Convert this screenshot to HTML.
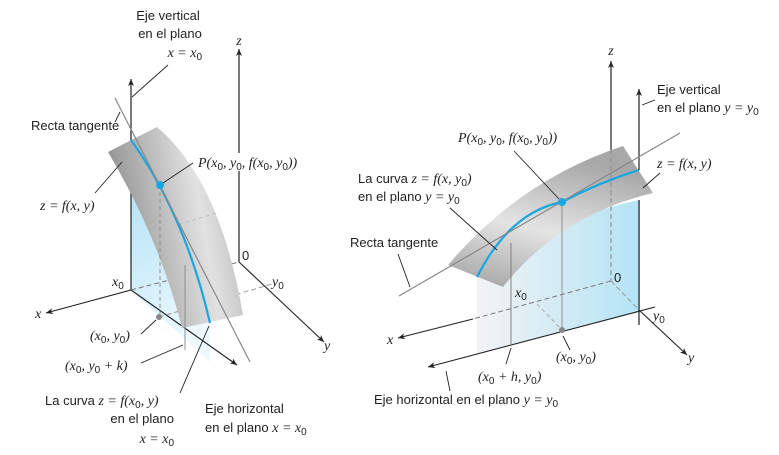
<!DOCTYPE html>
<html><head><meta charset="utf-8"><style>
html,body{margin:0;padding:0;background:#fff}
svg{display:block}
.t{font-family:"Liberation Sans",sans-serif;font-size:13px;fill:#222}
.m{font-family:"Liberation Serif",serif;font-style:italic;font-size:14px;fill:#222}
.n{font-style:normal}
.s{font-family:"Liberation Sans",sans-serif;font-style:normal;font-size:10px}
</style></head><body>
<svg width="779" height="455" viewBox="0 0 779 455">
<defs>
<marker id="ar" markerWidth="8" markerHeight="8" refX="7" refY="4" orient="auto" markerUnits="userSpaceOnUse"><path d="M0,1 L7,4 L0,7 L2,4 z" fill="#222"/></marker>
<linearGradient id="gL" x1="0" y1="0" x2="1" y2="-0.25">
<stop offset="0" stop-color="#9a9a9a"/><stop offset="0.55" stop-color="#e2e2e2"/><stop offset="1" stop-color="#a6a6a6"/></linearGradient>
<linearGradient id="gR" x1="0" y1="1" x2="0.35" y2="0">
<stop offset="0" stop-color="#a0a0a0"/><stop offset="0.5" stop-color="#e4e4e4"/><stop offset="1" stop-color="#a8a8a8"/></linearGradient>
<linearGradient id="bL" x1="0" y1="0" x2="0.3" y2="1">
<stop offset="0" stop-color="#b3e2f6"/><stop offset="1" stop-color="#eef9fe"/></linearGradient>
<linearGradient id="bR" x1="0" y1="0" x2="1" y2="0">
<stop offset="0" stop-color="#f3f3f3"/><stop offset="1" stop-color="#b3e3f6"/></linearGradient>
</defs>

<!-- LEFT FIGURE -->
<g>
<path d="M131,185 L131,290 L210,362 L210,320 L185,325 Q162,240 131,185 Z" fill="url(#bL)"/>
<line x1="239" y1="262" x2="239" y2="49" stroke="#222" stroke-width="1.2" marker-end="url(#ar)"/>
<line x1="131" y1="290" x2="131" y2="79" stroke="#222" stroke-width="1.2" marker-end="url(#ar)"/>
<line x1="239" y1="262" x2="324" y2="342" stroke="#222" stroke-width="1.1" marker-end="url(#ar)"/>
<line x1="131" y1="290" x2="46" y2="313" stroke="#222" stroke-width="1.1" marker-end="url(#ar)"/>
<line x1="131" y1="290" x2="237" y2="365" stroke="#222" stroke-width="1.1" marker-end="url(#ar)"/>
<line x1="131" y1="290" x2="239" y2="262" stroke="#777" stroke-dasharray="5,3"/>
<line x1="159" y1="317" x2="272" y2="284" stroke="#999" stroke-dasharray="5,3"/>
<path d="M108,152 L157,127 Q220,180 243,315 L182,328 Q160,240 108,152 Z" fill="url(#gL)"/>
<line x1="152" y1="233" x2="216" y2="213" stroke="#bbb" stroke-dasharray="4,3" stroke-width="0.8"/>
<line x1="160" y1="185" x2="160" y2="317" stroke="#888" stroke-dasharray="4,3" stroke-width="0.9"/>
<line x1="185" y1="265" x2="185" y2="350" stroke="#888" stroke-width="0.9"/>
<path d="M131,140 Q185,215 210,323" fill="none" stroke="#1aa6e0" stroke-width="2.2"/>
<line x1="115" y1="98" x2="250" y2="362" stroke="#888" stroke-width="1.2"/>
<circle cx="160" cy="185" r="4" fill="#1aa6e0"/>
<circle cx="159" cy="317" r="3" fill="#888"/>
<g stroke="#222" stroke-width="0.9">
<line x1="168" y1="65" x2="132" y2="97"/><line x1="120" y1="112" x2="115" y2="122"/>
<line x1="193" y1="163" x2="163" y2="183"/><line x1="95" y1="193" x2="122" y2="162"/>
<line x1="141" y1="334" x2="156" y2="320"/><line x1="141" y1="363" x2="183" y2="345"/>
<line x1="180" y1="393" x2="209" y2="326"/></g>
<text class="t" x="168" y="20" text-anchor="middle">Eje vertical</text>
<text class="t" x="170" y="38" text-anchor="middle">en el plano</text>
<text class="m" x="202" y="57" text-anchor="end">x = x<tspan class="s" dy="3">0</tspan></text>
<text class="m" x="239" y="45" text-anchor="middle">z</text>
<text class="t" x="31" y="130">Recta tangente</text>
<rect x="196" y="153" width="118" height="18" fill="#fff"/>
<text class="m" x="198" y="167">P(x<tspan class="s" dy="3">0</tspan><tspan dy="-3">, y</tspan><tspan class="s" dy="3">0</tspan><tspan dy="-3">, f(x</tspan><tspan class="s" dy="3">0</tspan><tspan dy="-3">, y</tspan><tspan class="s" dy="3">0</tspan><tspan dy="-3">))</tspan></text>
<text class="m" x="40" y="210">z = f(x, y)</text>
<text class="t" x="242" y="260">0</text>
<text class="m" x="112" y="286">x<tspan class="s" dy="3">0</tspan></text>
<text class="m" x="272" y="286">y<tspan class="s" dy="3">0</tspan></text>
<text class="m" x="35" y="318">x</text>
<text class="m" x="324" y="350">y</text>
<text class="m" x="90" y="340">(x<tspan class="s" dy="3">0</tspan><tspan dy="-3">, y</tspan><tspan class="s" dy="3">0</tspan><tspan dy="-3">)</tspan></text>
<text class="m" x="65" y="370">(x<tspan class="s" dy="3">0</tspan><tspan dy="-3">, y</tspan><tspan class="s" dy="3">0</tspan><tspan dy="-3"> + k)</tspan></text>
<text class="t" x="45" y="405">La curva <tspan class="m">z = f(x</tspan><tspan class="m s" dy="3">0</tspan><tspan class="m" dy="-3">, y)</tspan></text>
<text class="t" x="174" y="423" text-anchor="end">en el plano</text>
<text class="m" x="174" y="443" text-anchor="end">x = x<tspan class="s" dy="3">0</tspan></text>
<text class="t" x="205" y="413">Eje horizontal</text>
<text class="t" x="205" y="432">en el plano <tspan class="m">x = x</tspan><tspan class="m s" dy="3">0</tspan></text>
</g>

<!-- RIGHT FIGURE -->
<g>
<path d="M477,277 Q560,215 640,200 L640,312 L477,354 Z" fill="url(#bR)"/>
<line x1="611" y1="150" x2="611" y2="61" stroke="#222" stroke-width="1.2" marker-end="url(#ar)"/>
<line x1="611" y1="150" x2="611" y2="281" stroke="#777" stroke-dasharray="5,3"/>
<line x1="611" y1="281" x2="473" y2="319" stroke="#777" stroke-dasharray="5,3"/>
<line x1="473" y1="319" x2="398" y2="338" stroke="#222" stroke-width="1.1" marker-end="url(#ar)"/>
<line x1="611" y1="281" x2="639" y2="310" stroke="#999" stroke-dasharray="5,3"/>
<line x1="639" y1="310" x2="687" y2="355" stroke="#222" stroke-width="1.1" marker-end="url(#ar)"/>
<line x1="537" y1="304" x2="561" y2="329" stroke="#aaa" stroke-dasharray="4,3"/>
<line x1="655" y1="307" x2="428" y2="367" stroke="#222" stroke-width="1.1" marker-end="url(#ar)"/>
<line x1="639" y1="200" x2="639" y2="325" stroke="#222" stroke-width="1.2"/>
<path d="M448,265 Q520,180 623,146 L653,193 Q560,215 503,287 Z" fill="url(#gR)"/>
<line x1="611" y1="150" x2="611" y2="281" stroke="#888" stroke-dasharray="5,3" stroke-width="0.9"/>
<line x1="511" y1="243" x2="511" y2="345" stroke="#777" stroke-width="0.9"/>
<line x1="562" y1="202" x2="562" y2="330" stroke="#888" stroke-width="0.9"/>
<path d="M477,277 Q510,212 562,202 Q600,182 639,170" fill="none" stroke="#1aa6e0" stroke-width="2.2"/>
<line x1="639" y1="170" x2="639" y2="89" stroke="#222" stroke-width="1.2" marker-end="url(#ar)"/>
<line x1="399" y1="296" x2="680" y2="133" stroke="#888" stroke-width="1.2"/>
<circle cx="562" cy="202" r="4" fill="#1aa6e0"/>
<circle cx="562" cy="330" r="3" fill="#888"/>
<g stroke="#222" stroke-width="0.9">
<line x1="514" y1="151" x2="559" y2="199"/><line x1="450" y1="208" x2="497" y2="250"/>
<line x1="398" y1="254" x2="410" y2="287"/><line x1="660" y1="173" x2="643" y2="188"/>
<line x1="642" y1="105" x2="655" y2="100"/><line x1="563" y1="336" x2="570" y2="350"/>
<line x1="511" y1="348" x2="506" y2="364"/><line x1="446" y1="371" x2="450" y2="391"/></g>
<text class="m" x="611" y="55" text-anchor="middle">z</text>
<text class="t" x="657" y="94">Eje vertical</text>
<text class="t" x="657" y="112">en el plano <tspan class="m">y = y</tspan><tspan class="m s" dy="3">0</tspan></text>
<text class="m" x="458" y="142">P(x<tspan class="s" dy="3">0</tspan><tspan dy="-3">, y</tspan><tspan class="s" dy="3">0</tspan><tspan dy="-3">, f(x</tspan><tspan class="s" dy="3">0</tspan><tspan dy="-3">, y</tspan><tspan class="s" dy="3">0</tspan><tspan dy="-3">))</tspan></text>
<text class="m" x="657" y="168">z = f(x, y)</text>
<text class="t" x="358" y="183">La curva <tspan class="m">z = f(x, y</tspan><tspan class="m s" dy="3">0</tspan><tspan class="m" dy="-3">)</tspan></text>
<text class="t" x="358" y="201">en el plano <tspan class="m">y = y</tspan><tspan class="m s" dy="3">0</tspan></text>
<text class="t" x="350" y="247">Recta tangente</text>
<text class="t" x="614" y="282">0</text>
<text class="m" x="515" y="297">x<tspan class="s" dy="3">0</tspan></text>
<text class="m" x="653" y="320">y<tspan class="s" dy="3">0</tspan></text>
<text class="m" x="387" y="344">x</text>
<text class="m" x="688" y="362">y</text>
<text class="m" x="556" y="361">(x<tspan class="s" dy="3">0</tspan><tspan dy="-3">, y</tspan><tspan class="s" dy="3">0</tspan><tspan dy="-3">)</tspan></text>
<text class="m" x="478" y="381">(x<tspan class="s" dy="3">0</tspan><tspan dy="-3"> + h,  y</tspan><tspan class="s" dy="3">0</tspan><tspan dy="-3">)</tspan></text>
<text class="t" x="374" y="404">Eje horizontal en el plano <tspan class="m">y = y</tspan><tspan class="m s" dy="3">0</tspan></text>
</g>
</svg>
</body></html>
